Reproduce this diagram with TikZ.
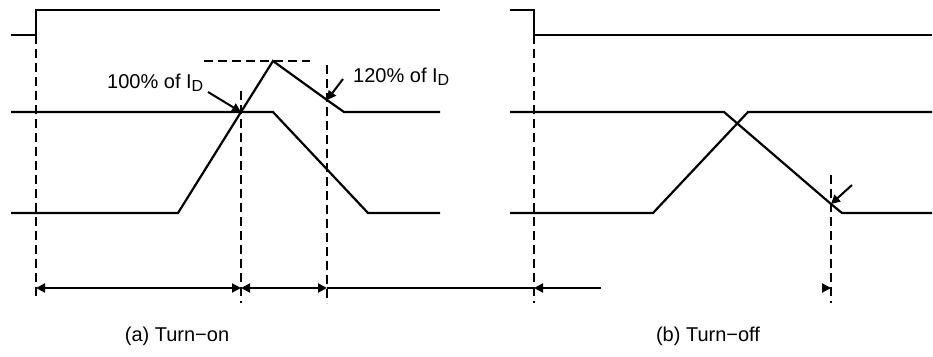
\documentclass[tikz,border=0pt]{standalone}
\usepackage{fontspec}
\setmainfont{Liberation Sans}
\usetikzlibrary{arrows.meta}
\tikzset{
  wave/.style={line width=2.2pt, line join=miter},
  guide/.style={line width=2.2pt, dash pattern=on 9pt off 5pt},
  dimline/.style={line width=2pt},
  tip/.style={-{Triangle[length=9pt,width=9pt]}},
  tips/.style={{Triangle[length=9pt,width=9pt]}-{Triangle[length=9pt,width=9pt]}},
  lbl/.style={font=\fontsize{20}{24}\selectfont, inner sep=0pt}
}
\newcommand{\subD}{I\raisebox{-0.3ex}{\fontsize{16}{18}\selectfont D}}

\begin{document}
\begin{tikzpicture}[x=1pt,y=-1pt]
  \useasboundingbox (0,0) rectangle (933,356);
  % turn-on
  \coordinate (gateon) at (36,35);
  \coordinate (cross) at (241,112);
  \coordinate (peak) at (273,61);
  \coordinate (over) at (327,100);
  \draw[wave] (11,35) -- (gateon) -- (36,10) -- (440,10);
  \draw[wave] (11,112) -- (273,112) -- (368,213) -- (440,213);
  \draw[wave] (11,213) -- (178,213) -- (cross) -- (peak) -- (over) -- (344,112) -- (440,112);
  \draw[guide] (204,61) -- (310,61);
  \coordinate (on0) at (36,288);
  \coordinate (on1) at (241,288);
  \coordinate (on2) at (327,288);
  \draw[guide] (gateon) -- (36,298);
  \draw[guide] (241,91) -- (241,303);
  \draw[guide] (327,65) -- (327,303);
  \node[lbl,anchor=base west] (pct100) at (107,88) {100\% of \subD};
  \node[lbl,anchor=base west] (pct120) at (353,82) {120\% of \subD};
  \coordinate (a100) at (208,92);
  \coordinate (a120) at (343,79);
  \draw[dimline,tip] (a100) -- (cross);
  \draw[dimline,tip] (a120) -- (over);
  % turn-off
  \coordinate (gateoff) at (534,35);
  \coordinate (tail) at (831,204);
  \draw[wave] (510,10) -- (534,10) -- (gateoff) -- (932,35);
  \draw[wave] (510,112) -- (724,112) -- (tail) -- (842,213) -- (932,213);
  \draw[wave] (510,213) -- (653,213) -- (748,112) -- (932,112);
  \coordinate (off0) at (534,288);
  \coordinate (off1) at (831,288);
  \coordinate (offr) at (601,288);
  \draw[guide] (gateoff) -- (534,303);
  \draw[guide] (831,175) -- (831,303);
  \coordinate (aoff) at (852,185);
  \draw[dimline,tip] (aoff) -- (tail);
  % time marks
  \draw[dimline,tips] (on0) -- (on1);
  \draw[dimline,tips] (on1) -- (on2);
  \draw[dimline] (on2) -- (off0);
  \draw[dimline,tip] (offr) -- (off0);
  \draw[dimline,tip] (822,288) -- (off1);
  \node[lbl,anchor=base] (capon) at (177,341) {(a) Turn−on};
  \node[lbl,anchor=base] (capoff) at (708,341) {(b) Turn−off};
\end{tikzpicture}
\end{document}
